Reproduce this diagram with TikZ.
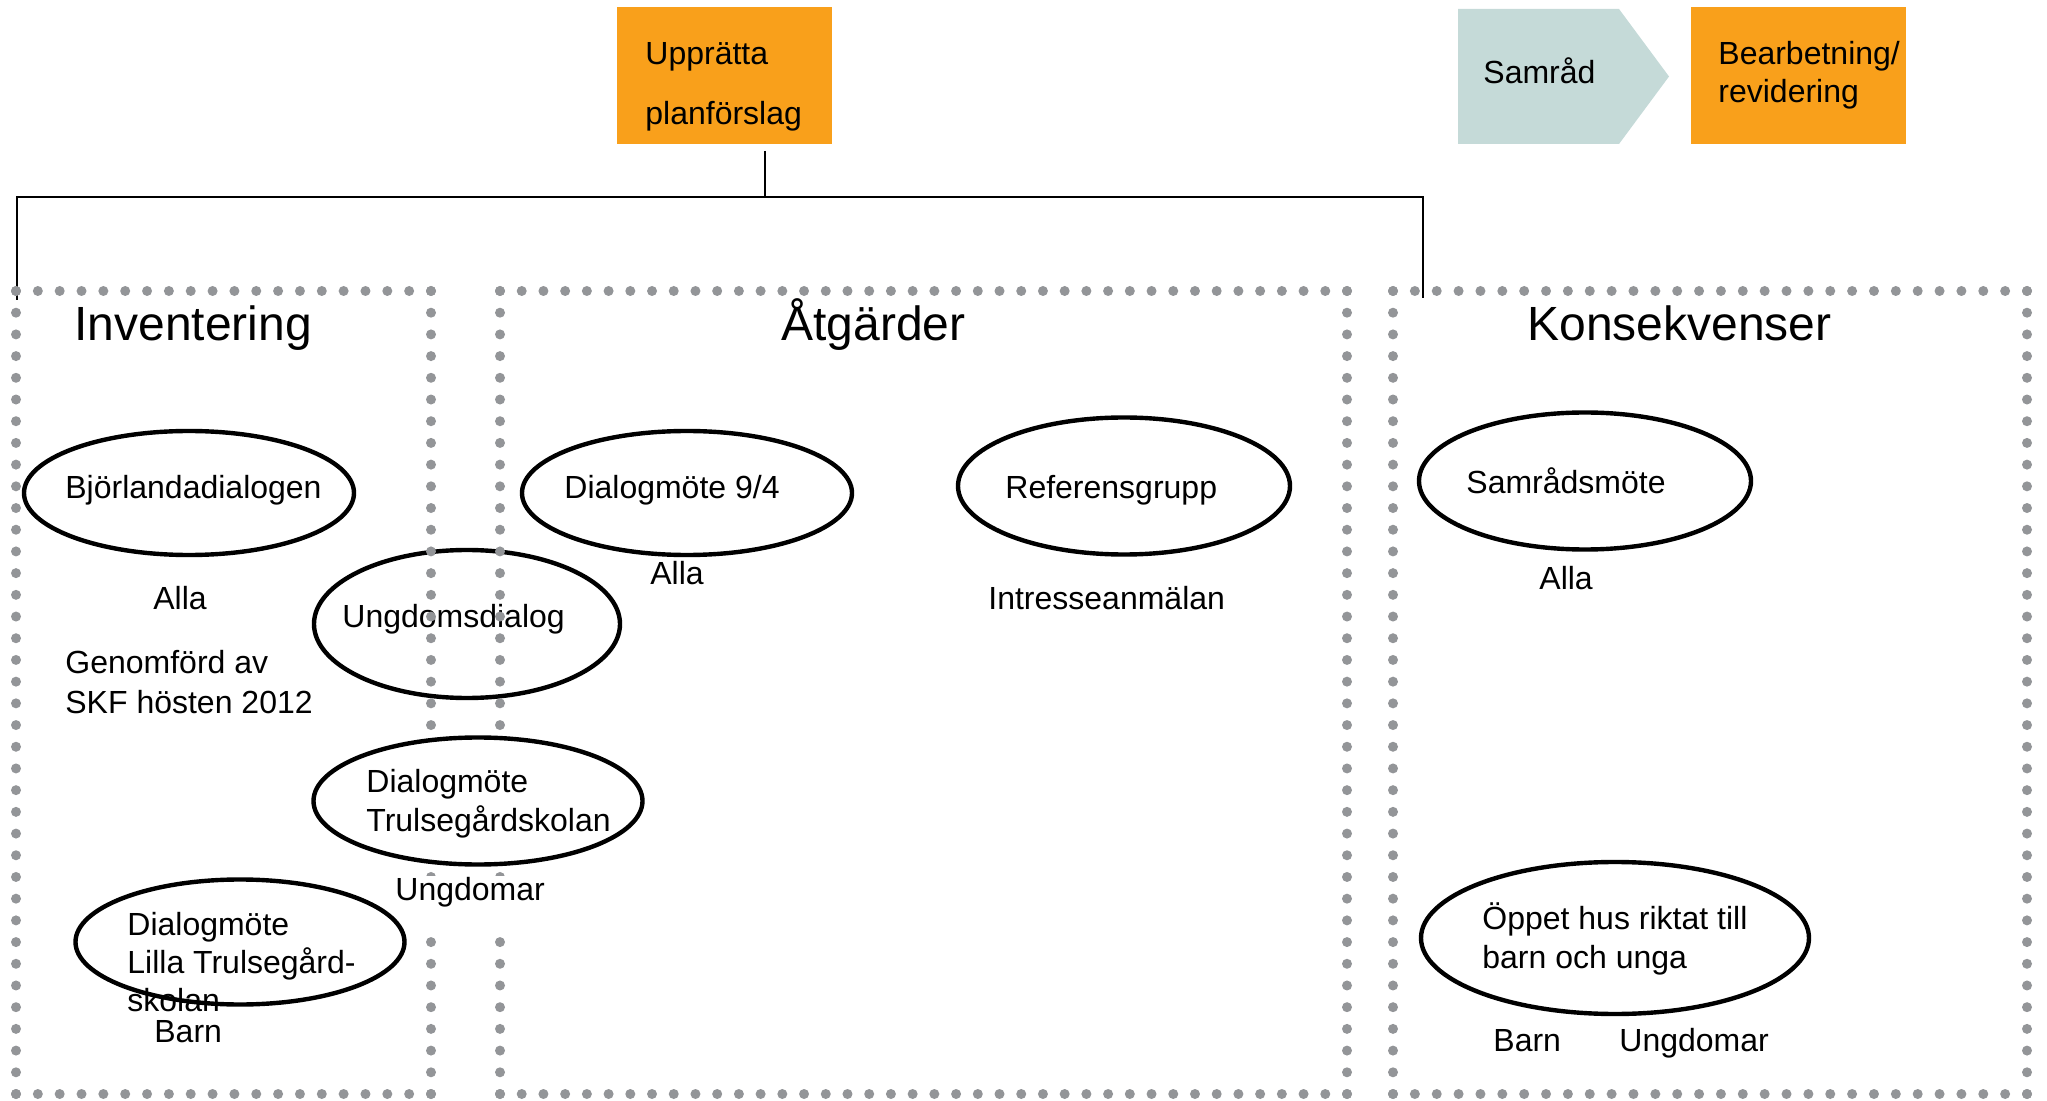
\documentclass[tikz,border=0pt]{standalone}
\usepackage{fontspec}
\setmainfont{Liberation Sans}
\usetikzlibrary{shapes.geometric}
\definecolor{orng}{HTML}{F9A01B}
\definecolor{samc}{HTML}{C5DAD8}
\definecolor{dotc}{HTML}{939598}
\begin{document}
\begin{tikzpicture}[x=0.5pt,y=-0.5pt,
  sm/.style={font=\fontsize{16}{19.5}\selectfont, inner sep=0pt, anchor=base west},
  lg/.style={font=\fontsize{24}{29}\selectfont, inner sep=0pt, anchor=base west},
  ell/.style={draw, ellipse, line width=2.2pt, inner sep=0pt},
  conn/.style={line width=1.3pt},
  dotline/.style={draw=dotc, line width=5pt, line cap=round},
  obox/.style={fill=orng, inner sep=0pt, anchor=north west, minimum width=107.5pt, minimum height=68.5pt}]
\useasboundingbox (0,0) rectangle (2047,1101);

% top process boxes
\node[obox] (upp) at (617,7) {};
\node[sm] (upp1) at (645,65) {Upprätta};
\node[sm] (upp2) at (645,125) {planförslag};
\fill[samc] (1458,9) -- (1619,9) -- (1669,76.5) -- (1619,144) -- (1458,144) -- cycle;
\node[sm] (samr) at (1483,84) {Samråd};
\node[obox] (bear) at (1691,7) {};
\node[sm] (bear1) at (1718,65) {Bearbetning/};
\node[sm] (bear2) at (1718,103) {revidering};

% connector
\coordinate (j) at (765,197);
\coordinate (jl) at (17,197);
\coordinate (jr) at (1423,197);
\coordinate (el) at (17,300);
\coordinate (er) at (1423,298);
\draw[conn] ([yshift=-3pt]upp.south -| j) -- (j);
\draw[conn] (el) -- (jl) -- (jr) -- (er);

% ellipse below dots
\node[ell, minimum width=153pt, minimum height=74pt] (e2) at (467,624) {};
\node[sm] (t2) at (342,627) {Ungdomsdialog};

% dotted frames
\foreach \xa/\xb/\nx in {16/431/19, 500/1347/39, 1393/2027/29} {
  \pgfmathsetlengthmacro\dx{(\xb-\xa)/\nx*0.5pt}
  \pgfmathsetlengthmacro\dy{(1094-291)/37*0.5pt}
  \draw[dotline, dash pattern=on 0pt off \dx] (\xa,291) -- (\xb,291);
  \draw[dotline, dash pattern=on 0pt off \dx] (\xa,1094) -- (\xb,1094);
  \draw[dotline, dash pattern=on 0pt off \dy] (\xa,291) -- (\xa,1094);
  \draw[dotline, dash pattern=on 0pt off \dy] (\xb,291) -- (\xb,1094);
}

% titles
\node[lg] (inv) at (74,341) {Inventering};
\node[lg] (atg) at (781,341) {Åtgärder};
\node[lg] (kon) at (1527,341) {Konsekvenser};

% Inventering
\node[ell, minimum width=165pt, minimum height=62pt] (e1) at (189,493) {};
\node[sm] (t1) at (65,499) {Björlandadialogen};
\node[sm] (a1) at (153,610) {Alla};
\node[sm] (g1) at (65,674) {Genomförd av};
\node[sm] (g2) at (65,713) {SKF hösten 2012};
\node[ell, fill=white, minimum width=164.5pt, minimum height=63.5pt] (e3) at (478,801) {};
\node[sm] (t3a) at (366,792) {Dialogmöte};
\node[sm] (t3b) at (366,831) {Trulsegårdskolan};
\node[sm, fill=white, text height=12pt, text depth=13pt, inner xsep=4pt] (u1) at (387,900) {Ungdomar};
\node[ell, minimum width=164.5pt, minimum height=62.5pt] (e4) at (240,942) {};
\node[sm] (t4a) at (127,935) {Dialogmöte};
\node[sm] (t4b) at (127,973) {Lilla Trulsegård-};
\node[sm] (t4c) at (127,1011) {skolan};
\node[sm] (b1) at (154,1042) {Barn};

% Åtgärder
\node[ell, minimum width=165pt, minimum height=62pt] (e5) at (687,493) {};
\node[sm] (t5) at (564,499) {Dialogmöte 9/4};
\node[sm] (a2) at (650,585) {Alla};
\node[ell, minimum width=166pt, minimum height=68.5pt] (e6) at (1124,486) {};
\node[sm] (t6) at (1005,499) {Referensgrupp};
\node[sm] (i6) at (988,610) {Intresseanmälan};

% Konsekvenser
\node[ell, minimum width=166pt, minimum height=68.5pt] (e7) at (1585,481) {};
\node[sm] (t7) at (1466,494) {Samrådsmöte};
\node[sm] (a3) at (1539,589) {Alla};
\node[ell, minimum width=194pt, minimum height=76pt] (e8) at (1615,938) {};
\node[sm] (t8a) at (1482,929) {Öppet hus riktat till};
\node[sm] (t8b) at (1482,968) {barn och unga};
\node[sm] (b2) at (1493,1051) {Barn};
\node[sm] (u2) at (1619,1051) {Ungdomar};
\end{tikzpicture}
\end{document}
